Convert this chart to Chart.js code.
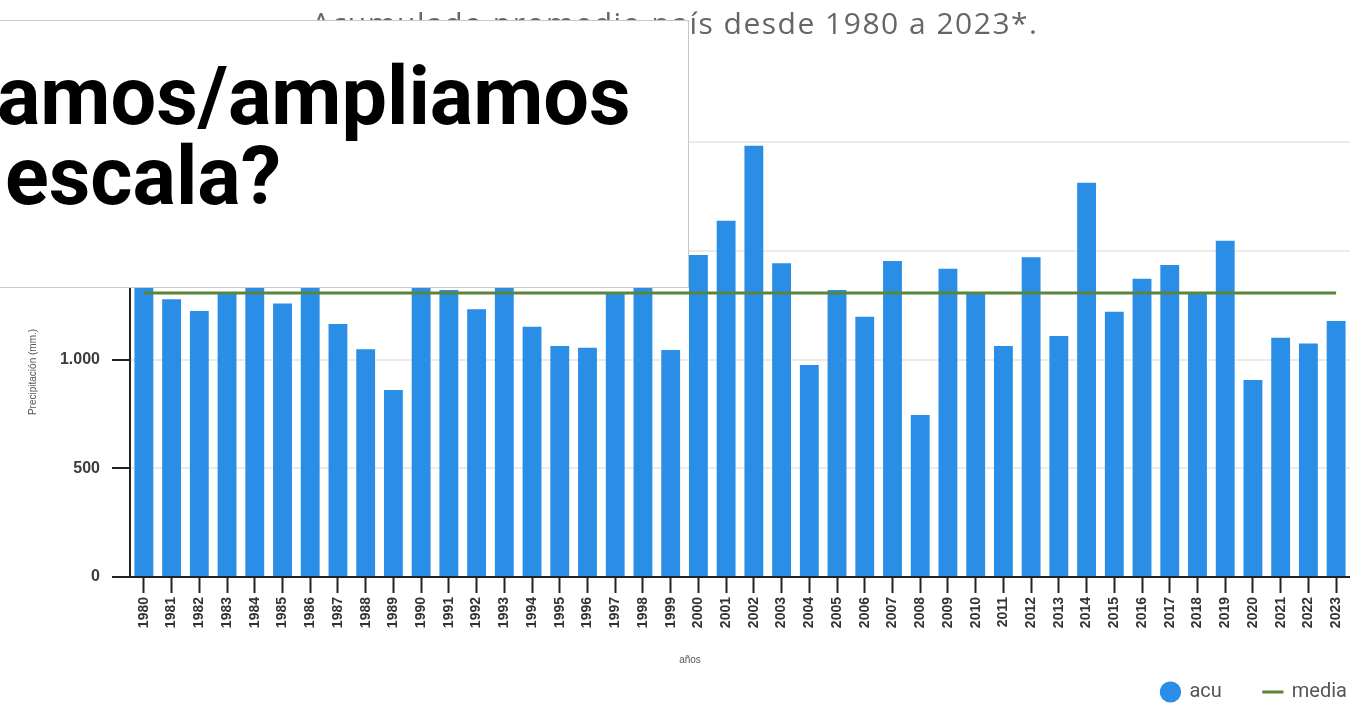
<!DOCTYPE html>
<html lang="es">
<head>
<meta charset="utf-8">
<script src="https://cdn.jsdelivr.net/npm/chart.js@4.4.1/dist/chart.umd.min.js"></script>
<style>
html,body{margin:0;padding:0;background:#fff;overflow:hidden;}
#wrap{position:relative;width:1357px;height:714px;overflow:hidden;background:#fff;}
#c{position:absolute;left:0;top:0;}
#overlay{position:absolute;left:-10px;top:20px;width:697px;height:266px;background:#fff;border:1px solid #c8c8c8;z-index:2;overflow:hidden;}
.q{position:absolute;font-family:Roboto,"Open Sans",sans-serif;font-weight:700;font-size:81px;line-height:92px;color:#000;white-space:nowrap;}
#l1{left:6px;top:30px;}
#l2{left:14px;top:110px;}
</style>
</head>
<body>
<div id="wrap">
<canvas id="c" width="1357" height="714"></canvas>
<div id="overlay">
  <div class="q" id="l1">amos/ampliamos</div>
  <div class="q" id="l2">escala?</div>
</div>
</div>
<script>
// ---- data ----
const years = ['1980','1981','1982','1983','1984','1985','1986','1987','1988','1989',
               '1990','1991','1992','1993','1994','1995','1996','1997','1998','1999',
               '2000','2001','2002','2003','2004','2005','2006','2007','2008','2009',
               '2010','2011','2012','2013','2014','2015','2016','2017','2018','2019',
               '2020','2021','2022','2023'];
const acu = [1540,1277,1223,1307,1620,1258,1700,1163,1047,860,
             1480,1320,1231,1560,1151,1062,1054,1307,1720,1044,
             1480,1638,1983,1442,975,1320,1197,1453,745,1417,
             1304,1062,1470,1108,1813,1220,1371,1434,1306,1546,
             906,1100,1074,1177];
const media = [1306,1306,1306,1306,1306,1306,1306,1306,1306,1306,
               1306,1306,1306,1306,1306,1306,1306,1306,1306,1306,
               1306,1306,1306,1306,1306,1306,1306,1306,1306,1306,
               1306,1306,1306,1306,1306,1306,1306,1306,1306,1306,
               1306,1306,1306,1306];
const yTicks = [0, 500, 1000, 1500, 2000];
const chartTitle = 'Acumulado promedio país desde 1980 a 2023*.';
const xTitle = 'años';
const yTitle = 'Precipitación (mm.)';
const seriesNames = ['acu', 'media'];

function fmt(v){ return String(v).replace(/\B(?=(\d{3})+(?!\d))/g, '.'); }

const axisTitles = {
  id: 'axisTitles',
  afterDraw(chart){
    const ctx = chart.ctx;
    ctx.save();
    ctx.fillStyle = '#555';
    ctx.font = '10px "Liberation Sans", Arial, sans-serif';
    ctx.textAlign = 'center';
    ctx.textBaseline = 'middle';
    ctx.fillText(xTitle, 690, 660);
    ctx.translate(33, 372);
    ctx.rotate(-Math.PI/2);
    ctx.fillText(yTitle, 0, 0);
    ctx.restore();
  }
};
const tweaks = {
  id: 'tweaks',
  afterLayout(chart){ chart.legend.right = chart.legend.right + 39; },
  beforeDraw(chart){
    const tb = chart.titleBlock;
    if (tb && !tb._spaced){
      const orig = tb.draw.bind(tb);
      tb.draw = function(){
        const ctx = chart.ctx;
        const old = ctx.letterSpacing;
        ctx.letterSpacing = '1.5px';
        orig();
        ctx.letterSpacing = old || '0px';
      };
      tb._spaced = true;
    }
  }
};

new Chart(document.getElementById('c'), {
  data: {
    labels: years,
    datasets: [
      { type: 'bar', label: seriesNames[0], data: acu, backgroundColor: '#2a8ee6',
        borderWidth: 0, barPercentage: 0.68, categoryPercentage: 1.0, order: 2, pointStyle: 'circle' },
      { type: 'line', label: seriesNames[1], data: media, borderColor: '#5a863c', backgroundColor: '#5a863c',
        borderWidth: 3, pointRadius: 0, tension: 0, order: 1, pointStyle: 'line' }
    ]
  },
  options: {
    responsive: false,
    animation: false,
    events: [],
    layout: { padding: { left: 0, right: 7, top: 0, bottom: 2 } },
    plugins: {
      title: { display: true, text: chartTitle, color: '#666',
               font: { family: '"Open Sans", sans-serif', size: 30, weight: 'normal' },
               padding: { top: 7, bottom: 99 } },
      legend: { display: true, position: 'bottom', align: 'end',
                labels: { usePointStyle: true, boxWidth: 18, boxHeight: 15, padding: 42,
                          color: '#555', font: { family: 'Roboto, sans-serif', size: 20 },
                          sort: (a, b) => a.datasetIndex - b.datasetIndex } },
      tooltip: { enabled: false }
    },
    scales: {
      x: {
        offset: true,
        grid: { display: true, drawOnChartArea: false, drawTicks: true, offset: false,
                tickLength: 16, tickColor: '#222', tickWidth: 2 },
        border: { display: true, color: '#222', width: 2 },
        ticks: { autoSkip: false, minRotation: 90, maxRotation: 90, padding: 4, color: '#333',
                 font: { family: '"Liberation Sans", Arial, sans-serif', size: 14, weight: 'bold' } },
        afterFit(scale){ scale.height = 63; }
      },
      y: {
        min: 0, max: 2000,
        afterBuildTicks(scale){ scale.ticks = yTicks.map(v => ({ value: v })); },
        grid: { color: '#ebebeb', lineWidth: 2, drawTicks: true, tickLength: 18, tickColor: '#222', tickWidth: 2 },
        border: { display: true, color: '#222', width: 2 },
        ticks: { padding: 12, color: '#3c3c3c', callback: v => fmt(v),
                 font: { family: '"Liberation Sans", Arial, sans-serif', size: 16, weight: 'bold' } },
        afterFit(scale){ scale.width = 130; }
      }
    }
  },
  plugins: [axisTitles, tweaks]
});
</script>
</body>
</html>
